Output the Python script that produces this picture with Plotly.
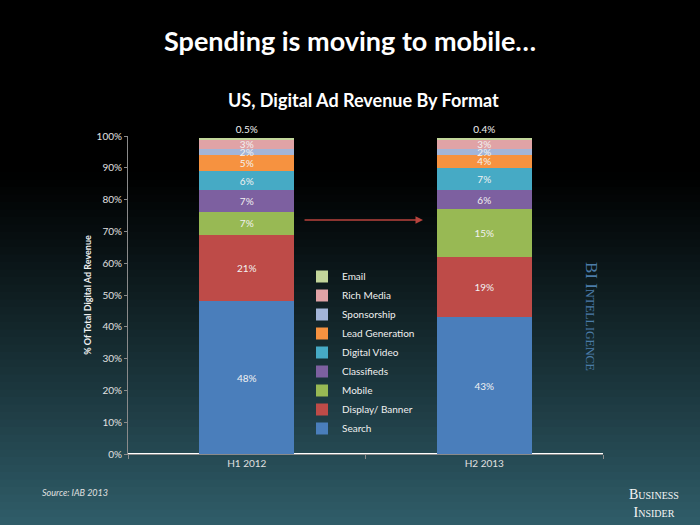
import plotly.graph_objects as go

periods = ["H1 2012", "H2 2013"]
formats = ["Search", "Display/ Banner", "Mobile", "Classifieds", "Digital Video",
           "Lead Generation", "Sponsorship", "Rich Media", "Email"]
h1_2012 = [48, 21, 7, 7, 6, 5, 2, 3, 0.5]
h2_2013 = [43, 19, 15, 6, 7, 4, 2, 3, 0.4]
labels_h1 = ["48%", "21%", "7%", "7%", "6%", "5%", "2%", "3%", "0.5%"]
labels_h2 = ["43%", "19%", "15%", "6%", "7%", "4%", "2%", "3%", "0.4%"]
colors = ["#4a7ebb", "#be4b48", "#98b954", "#7d60a0", "#46aac5",
          "#f69240", "#a3b5d8", "#e0a3a6", "#c3d69b"]
yticks = [0, 10, 20, 30, 40, 50, 60, 70, 80, 90, 100]

FONT = "Lato"
fig = go.Figure()
for i, f in enumerate(formats):
    is_top = (i == len(formats) - 1)
    fig.add_trace(go.Bar(
        x=periods, y=[h1_2012[i], h2_2013[i]], name=f,
        marker=dict(color=colors[i], line=dict(width=0)),
        text=[labels_h1[i], labels_h2[i]],
        textposition="outside" if is_top else "inside",
        insidetextanchor="middle",
        textfont=dict(color="#f2f2f2", size=10, family=FONT),
        outsidetextfont=dict(color="#f2f2f2", size=10, family=FONT),
        cliponaxis=False, width=0.4,
    ))

L, R, T, B = 128, 97, 136, 71
W, H = 700, 525
pw, ph = W - L - R, H - T - B
def px_to_py(py):
    return (H - B - py) / ph
def px_to_px(px):
    return (px - L) / pw

# gradient background bands
shapes = []
n = 70
for k in range(n):
    y0p = H * k / n
    y1p = H * (k + 1) / n
    mid = (y0p + y1p) / 2
    t = max(0.0, (mid - 170) / (H - 170))
    t = min(1.0, t) ** 1.1
    r = int(t * 0x30)
    g = int(t * 0x5e)
    b = int(t * 0x6a)
    shapes.append(dict(type="rect", xref="paper", yref="paper", layer="below",
                       x0=px_to_px(-5), x1=px_to_px(W + 5),
                       y0=px_to_py(y1p + 0.5), y1=px_to_py(y0p - 0.5),
                       fillcolor=f"rgb({r},{g},{b})", line=dict(width=0)))

fig.update_layout(
    width=W, height=H,
    margin=dict(l=L, r=R, t=T, b=B),
    paper_bgcolor="#000000", plot_bgcolor="rgba(0,0,0,0)",
    barmode="stack",
    shapes=shapes,
    uniformtext=dict(minsize=10, mode="show"),
    font=dict(family=FONT, color="#e8e8e8", size=10),
    showlegend=True,
    legend=dict(traceorder="reversed", x=px_to_px(302), y=px_to_py(262),
                xanchor="left", yanchor="top", bgcolor="rgba(0,0,0,0)",
                font=dict(size=10, color="#f0f0f0", family=FONT),
                itemwidth=30, tracegroupgap=0),
    xaxis=dict(showgrid=False, showline=True, linecolor="#8a8a8a", linewidth=1,
               ticks="outside", tickson="boundaries", ticklen=4, tickcolor="#8a8a8a",
               tickfont=dict(size=10, color="#e0e0e0"), range=[-0.5, 1.5]),
    yaxis=dict(range=[0, 100], tickvals=yticks, ticktext=[f"{v}%" for v in yticks],
               showgrid=False, showline=True, linecolor="#8a8a8a", linewidth=1,
               ticks="outside", ticklen=3, tickcolor="#8a8a8a",
               tickfont=dict(size=10, color="#e0e0e0"),
               title=dict(text="<b>% Of Total Digital Ad Revenue</b>",
                          font=dict(size=9, color="#f0f0f0"), standoff=3)),
)

ann = [
    dict(text="<b>Spending is moving to mobile…</b>", xref="paper", yref="paper",
         x=px_to_px(350), y=px_to_py(41), showarrow=False,
         font=dict(size=27, color="#ffffff", family=FONT), xanchor="center", yanchor="middle"),
    dict(text="<b>US, Digital Ad Revenue By Format</b>", xref="paper", yref="paper",
         x=px_to_px(363), y=px_to_py(100), showarrow=False,
         font=dict(size=18, color="#ffffff", family=FONT), xanchor="center", yanchor="middle"),
    dict(text="Source: IAB 2013", xref="paper", yref="paper",
         x=px_to_px(40), y=px_to_py(492), showarrow=False, xanchor="left", yanchor="middle",
         font=dict(size=9, color="#e0e0e0", family=FONT, style="italic")),
    dict(text="BI Intelligence", xref="paper", yref="paper", textangle=90,
         x=px_to_px(592), y=px_to_py(316), showarrow=False, xanchor="center", yanchor="middle",
         font=dict(size=17, color="#4b7ca8", family="Liberation Serif", variant="small-caps")),
    dict(text="Business<br>Insider", xref="paper", yref="paper",
         x=px_to_px(654), y=px_to_py(503), showarrow=False, xanchor="center", yanchor="middle",
         font=dict(size=14, color="#f5f5f5", family="Liberation Serif", variant="small-caps"),
         align="center"),
    dict(x=0.742, y=73.6, ax=0.237, ay=73.6, xref="x", yref="y", axref="x", ayref="y",
         text="", showarrow=True, arrowhead=2, arrowsize=1, arrowwidth=1.5,
         arrowcolor="#b8433d"),
]
fig.update_layout(annotations=ann)
fig.write_html("out.html", config={"displayModeBar": False},
               post_script="document.body.style.margin='0';document.body.style.overflow='hidden';")
